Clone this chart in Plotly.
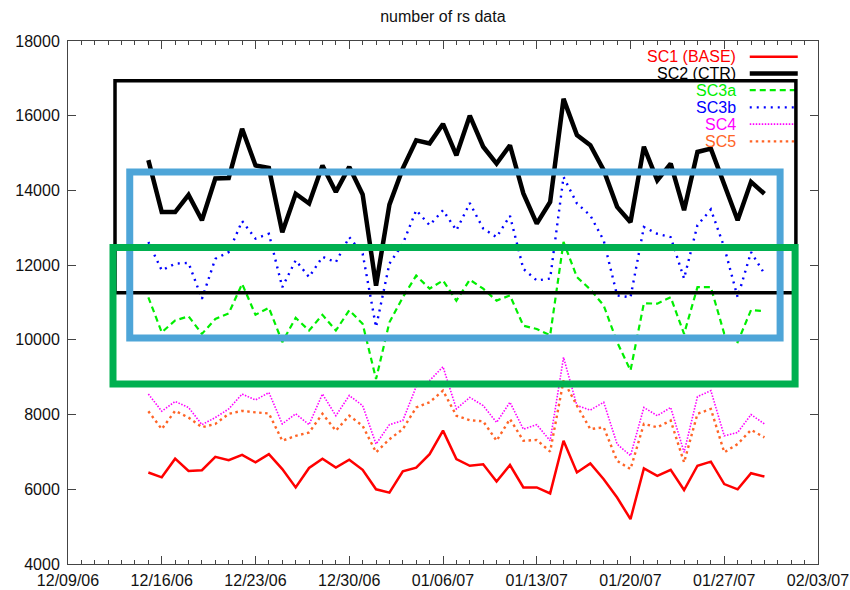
import pandas as pd
import plotly.graph_objects as go

# Daily counts, 12/15/06 .. 01/30/07
dates = pd.date_range("2006-12-15", periods=47, freq="D")

sc1_base = [6450, 6320, 6820, 6490, 6510, 6870, 6780, 6920, 6720, 6940,
            6540, 6050, 6570, 6820, 6580, 6790, 6520, 6000, 5910, 6480,
            6580, 6940, 7570, 6810, 6630, 6670, 6210, 6650, 6050, 6050,
            5890, 7300, 6450, 6690, 6270, 5780, 5200, 6560, 6360, 6520,
            5980, 6630, 6740, 6140, 6000, 6430, 6340]
sc2_ctr = [14810, 13420, 13420, 13880, 13200, 14320, 14330, 15650, 14670, 14600,
           12880, 13910, 13650, 14670, 13960, 14630, 13890, 11450, 13620, 14590,
           15340, 15260, 15780, 14940, 16000, 15170, 14720, 15210, 13920, 13110,
           13690, 16450, 15480, 15210, 14540, 13560, 13150, 15170, 14270, 14720,
           13470, 15030, 15120, 14180, 13200, 14230, 13910]
sc3a = [11140, 10200, 10520, 10630, 10160, 10560, 10710, 11500, 10670, 10860,
        9940, 10590, 10250, 10670, 10250, 10790, 10430, 8950, 10470, 11140,
        11720, 11370, 11590, 11050, 11610, 11370, 11050, 11190, 10380, 10290,
        10120, 12620, 11680, 11350, 10920, 9940, 9180, 10980, 10970, 11140,
        10160, 11410, 11410, 10160, 9940, 10800, 10770]
sc3b = [12620, 11860, 12040, 12060, 11100, 12170, 12350, 13180, 12710, 12840,
        11410, 12130, 11680, 12220, 12080, 12750, 12310, 10340, 12040, 12570,
        13470, 13070, 13470, 12930, 13660, 12980, 12750, 13320, 11900, 11590,
        11640, 14360, 13650, 13330, 12660, 11190, 11140, 13020, 12840, 12750,
        11640, 13070, 13490, 12480, 11140, 12350, 11770]
sc4 = [8550, 8090, 8350, 8190, 7730, 7920, 8150, 8550, 8390, 8590,
       7750, 8020, 7730, 8550, 7970, 8510, 8240, 7210, 7730, 7840,
       8750, 8910, 9280, 8150, 8460, 8240, 7790, 8330, 7610, 7730,
       7300, 9530, 8240, 8120, 8330, 7210, 6900, 8190, 7970, 8190,
       6990, 8480, 8640, 7430, 7520, 8000, 7750]
sc5 = [8090, 7610, 8100, 7920, 7660, 7750, 8020, 8100, 8060, 8030,
       7300, 7430, 7520, 8020, 7570, 7970, 7700, 6990, 7340, 7610,
       8190, 8330, 8640, 7970, 7850, 7820, 7300, 7880, 7300, 7320,
       7010, 8910, 8240, 7610, 7660, 6760, 6540, 7750, 7660, 7840,
       6720, 8020, 8150, 6990, 7210, 7590, 7390]

series = [
    ("SC1 (BASE)", sc1_base, "#ff0000", 2.5, "solid"),
    ("SC2 (CTR)", sc2_ctr, "#000000", 4.5, "solid"),
    ("SC3a", sc3a, "#00ee00", 2.2, "6px,4px"),
    ("SC3b", sc3b, "#0000ff", 2.4, "2px,5px"),
    ("SC4", sc4, "#ff00ff", 1.6, "1.5px,1.5px"),
    ("SC5", sc5, "#ff6426", 2.4, "2.5px,3.5px"),
]

FONT = "Liberation Sans, Arial, Helvetica, sans-serif"
AXIS_COLOR = "#444444"

fig = go.Figure()
for name, vals, color, width, dash in series:
    fig.add_trace(go.Scatter(
        x=dates, y=vals, name=name, mode="lines",
        line=dict(color=color, width=width, dash=dash),
        showlegend=False,
    ))

# Key in the upper right: coloured right-aligned labels with line samples
row_y = [0.970, 0.938, 0.906, 0.873, 0.841, 0.808]
for (name, _, color, width, dash), yy in zip(series, row_y):
    fig.add_annotation(
        x=0.893, y=yy, xref="paper", yref="paper", text=name,
        showarrow=False, xanchor="right", yanchor="middle",
        font=dict(family=FONT, size=16, color=color),
    )
    fig.add_shape(
        type="line", xref="paper", yref="paper",
        x0=0.909, x1=0.973, y0=yy, y1=yy,
        line=dict(color=color, width=width, dash=dash),
    )

# Highlight boxes (start offset in days from 12/09/06, end offset, low, high)
origin = pd.Timestamp("2006-12-09")
boxes = [
    (3.51, 54.35, 11260, 16935, "#000000", 3.5),
    (4.61, 53.17, 10053, 14495, "#4ea5d8", 7),
    (3.36, 54.29, 8820, 12475, "#00b050", 7),
]
for d0, d1, lo, hi, color, width in boxes:
    fig.add_shape(
        type="rect", xref="x", yref="y", layer="above",
        x0=origin + pd.Timedelta(days=d0), x1=origin + pd.Timedelta(days=d1),
        y0=lo, y1=hi, line=dict(color=color, width=width),
        fillcolor="rgba(0,0,0,0)",
    )

fig.update_layout(
    width=850, height=590,
    margin=dict(l=68, r=32, t=41, b=26, autoexpand=False),
    paper_bgcolor="white", plot_bgcolor="white",
    title=dict(text="number of rs data", x=0.521, xanchor="center",
               y=0.973, yanchor="middle",
               font=dict(family=FONT, size=16, color="#111111")),
    font=dict(family=FONT, size=16, color="#111111"),
)
fig.update_xaxes(
    range=["2006-12-09", "2007-02-03"], automargin=False,
    tick0="2006-12-09", dtick=7 * 86400000, tickformat="%m/%d/%y",
    ticks="inside", ticklen=8, tickcolor=AXIS_COLOR, tickwidth=1,
    showline=True, linecolor=AXIS_COLOR, linewidth=1, mirror="ticks",
    showgrid=False, zeroline=False, ticklabelstandoff=2,
    minor=dict(dtick=86400000, tick0="2006-12-09", ticks="inside",
               ticklen=4, tickcolor=AXIS_COLOR, showgrid=False),
    tickfont=dict(family=FONT, size=16, color="#111111"),
)
fig.update_yaxes(
    range=[4000, 18000], dtick=2000, tickformat="d", automargin=False,
    ticks="inside", ticklen=8, tickcolor=AXIS_COLOR, tickwidth=1,
    showline=True, linecolor=AXIS_COLOR, linewidth=1, mirror="ticks",
    showgrid=False, zeroline=False, ticklabelstandoff=4,
    tickfont=dict(family=FONT, size=16, color="#111111"),
)

fig.write_html("out.html")
